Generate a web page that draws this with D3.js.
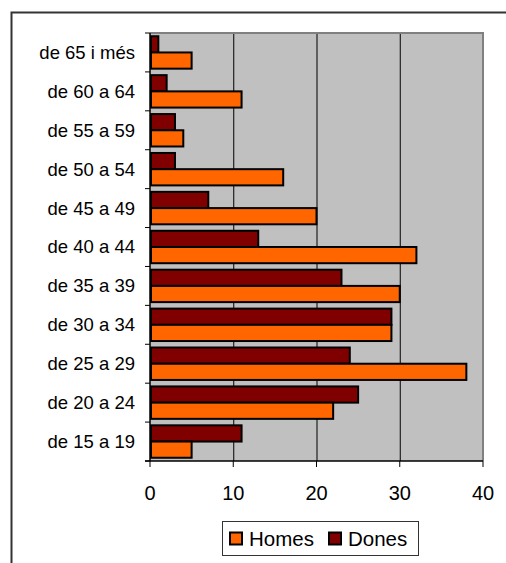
<!DOCTYPE html>
<html><head><meta charset="utf-8">
<script src="https://cdn.jsdelivr.net/npm/d3@7/dist/d3.min.js"></script>
<style>
html,body{margin:0;padding:0;background:#fff;}
svg{display:block;font-family:"Liberation Sans",Arial,sans-serif;}
</style></head>
<body><svg id="c" width="506" height="563"></svg>
<script>
const categories = ["de 15 a 19","de 20 a 24","de 25 a 29","de 30 a 34","de 35 a 39","de 40 a 44","de 45 a 49","de 50 a 54","de 55 a 59","de 60 a 64","de 65 i més"];
const homes = [5, 22, 38, 29, 30, 32, 20, 16, 4, 11, 5];
const dones = [11, 25, 24, 29, 23, 13, 7, 3, 3, 2, 1];
const seriesNames = ["Homes", "Dones"];
const seriesColors = ["#FF6600", "#800000"];
const xTicks = [0, 10, 20, 30, 40];

const svg = d3.select("#c");
// outer frame
svg.append("rect").attr("x",11.5).attr("y",12.5).attr("width",520).attr("height",600)
  .attr("fill","#fff").attr("stroke","#333").attr("stroke-width",2);

const L=150, R=483, T=33, B=461;
const x = d3.scaleLinear().domain([0,40]).range([L,R]);
const y = d3.scaleBand().domain(categories.slice().reverse()).range([T,B]).padding(0);
const inner = d3.scaleBand().domain(["Dones","Homes"]).range([0,y.bandwidth()]).paddingInner(0).paddingOuter(0.2);

// plot background
svg.append("rect").attr("x",L).attr("y",T).attr("width",R-L).attr("height",B-T).attr("fill","#C0C0C0");
// gridlines
svg.append("g").selectAll("line").data(xTicks.filter(d=>d>0&&d<40)).join("line")
  .attr("x1",d=>x(d)+0.5).attr("x2",d=>x(d)+0.5).attr("y1",T).attr("y2",B)
  .attr("stroke","#000").attr("stroke-width",1);
// plot border top/right
svg.append("path").attr("d",`M${L},${T} H${R} V${B}`).attr("fill","none").attr("stroke","#808080").attr("stroke-width",2);

const data = categories.map((c,i)=>({cat:c, Homes:homes[i], Dones:dones[i]}));
const g = svg.append("g");
data.forEach(d=>{
  ["Dones","Homes"].forEach(s=>{
    g.append("rect")
      .attr("x",x(0)+1).attr("y",y(d.cat)+inner(s))
      .attr("width",x(d[s])-x(0)-1).attr("height",inner.bandwidth())
      .attr("fill",seriesColors[seriesNames.indexOf(s)])
      .attr("stroke","#000").attr("stroke-width",2);
  });
});

// left axis
const yAxis = svg.append("g");
yAxis.append("line").attr("x1",L).attr("x2",L).attr("y1",T).attr("y2",B).attr("stroke","#000").attr("stroke-width",1.5);
const edges = d3.range(categories.length+1).map(i=>T+i*y.step());
yAxis.selectAll("line.t").data(edges).join("line").attr("class","t")
  .attr("x1",L-5).attr("x2",L).attr("y1",d=>d).attr("y2",d=>d).attr("stroke","#000");
yAxis.selectAll("text").data(categories).join("text")
  .attr("x",135).attr("y",d=>y(d)+y.bandwidth()/2).attr("dy","0.35em")
  .attr("text-anchor","end").attr("font-size",18.5).attr("fill","#000").text(d=>d);

// bottom axis
const xAxis = svg.append("g");
xAxis.append("line").attr("x1",L-5).attr("x2",R).attr("y1",B).attr("y2",B).attr("stroke","#000").attr("stroke-width",1.5);
xAxis.selectAll("line.t").data(xTicks).join("line").attr("class","t")
  .attr("x1",d=>x(d)).attr("x2",d=>x(d)).attr("y1",B).attr("y2",B+6).attr("stroke","#000");
xAxis.selectAll("text").data(xTicks).join("text")
  .attr("x",d=>x(d)).attr("y",500).attr("text-anchor","middle").attr("font-size",20).attr("fill","#000").text(d=>d);

// legend
const lg = svg.append("g");
lg.append("rect").attr("x",222.5).attr("y",521.5).attr("width",196).attr("height",34).attr("fill","#fff").attr("stroke","#333").attr("stroke-width",1);
const legX = [230, 329];
seriesNames.forEach((s,i)=>{
  lg.append("rect").attr("x",legX[i]).attr("y",532.5).attr("width",12).attr("height",12)
    .attr("fill",seriesColors[i]).attr("stroke","#000").attr("stroke-width",2);
  lg.append("text").attr("x",legX[i]+19).attr("y",546).attr("font-size",20.5).attr("fill","#000").text(s);
});
</script></body></html>
